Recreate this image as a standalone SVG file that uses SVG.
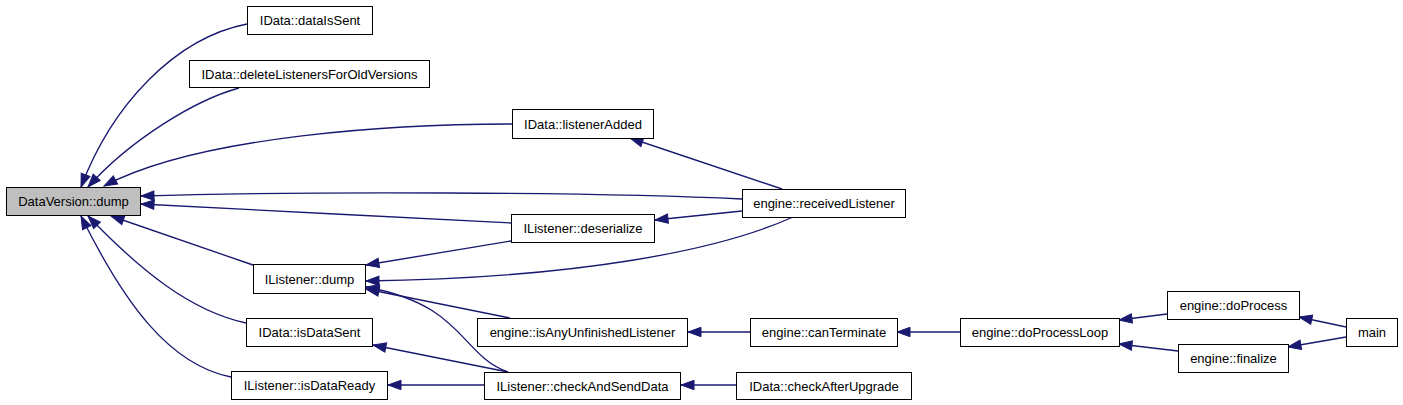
<svg xmlns="http://www.w3.org/2000/svg" width="1403" height="405" viewBox="0 0 1403 405">
<defs>
<style>
.node rect{fill:#ffffff;stroke:#000000;stroke-width:1}
.node.hl rect{fill:#bfbfbf}
.node text{font-family:"Liberation Sans",Arial,sans-serif;font-size:13px;fill:#000000;text-anchor:middle}
.edges path{fill:none;stroke:#191970;stroke-width:1.33;marker-end:url(#ah)}
</style>
<marker id="ah" markerUnits="userSpaceOnUse" markerWidth="16" markerHeight="12" refX="13" refY="5" orient="auto" overflow="visible">
<path d="M0,0.3 L13,5 L0,9.7 z" fill="#191970" stroke="#191970" stroke-width="1"/>
</marker>
</defs>
<rect width="1403" height="405" fill="#ffffff"/>
<g id="connectors" class="edges">
<path d="M247,24 C175,38 112,105 81,187"/>
<path d="M239,88 C195,100 130,140 88,187"/>
<path d="M512,124 C400,124 200,135 104,186"/>
<path d="M742,199 C600,192 300,191 141,196"/>
<path d="M511,223 C400,217 250,210 141,204"/>
<path d="M253,265 L111,216"/>
<path d="M246,323 C190,311 140,270 88,216"/>
<path d="M231,377 C170,365 125,305 81,216"/>
<path d="M782,189 L630,138"/>
<path d="M742,211 L655,220"/>
<path d="M511,241 L366,265"/>
<path d="M793,217 C720,250 580,278 366,281"/>
<path d="M510,318 L366,289"/>
<path d="M508,372 C460,355 465,305 366,287"/>
<path d="M508,372 L373,345"/>
<path d="M484,385 L388,385"/>
<path d="M750,332 L688,332"/>
<path d="M736,385 L681,385"/>
<path d="M960,332 L897,332"/>
<path d="M1167,314 L1119,320"/>
<path d="M1178,351 L1119,344"/>
<path d="M1346,327 L1299,317"/>
<path d="M1346,337 L1288,347"/>
</g>
<g id="n_dvdump" class="node hl"><rect x="6.5" y="187.5" width="134" height="28"/><text x="73.5" y="206">DataVersion::dump</text></g>
<g id="n_dataIsSent" class="node"><rect x="247.5" y="6.5" width="125" height="28"/><text x="310" y="25">IData::dataIsSent</text></g>
<g id="n_deleteListeners" class="node"><rect x="189.5" y="60.5" width="240" height="27"/><text x="309.5" y="78.5">IData::deleteListenersForOldVersions</text></g>
<g id="n_listenerAdded" class="node"><rect x="512.5" y="109.5" width="141" height="29"/><text x="583" y="128.5">IData::listenerAdded</text></g>
<g id="n_receivedListener" class="node"><rect x="742.5" y="189.5" width="163" height="28"/><text x="824" y="208">engine::receivedListener</text></g>
<g id="n_deserialize" class="node"><rect x="511.5" y="214.5" width="143" height="28"/><text x="583" y="233">IListener::deserialize</text></g>
<g id="n_ldump" class="node"><rect x="253.5" y="264.5" width="112" height="29"/><text x="309.5" y="283.5">IListener::dump</text></g>
<g id="n_isDataSent" class="node"><rect x="246.5" y="318.5" width="126" height="28"/><text x="309.5" y="337">IData::isDataSent</text></g>
<g id="n_isDataReady" class="node"><rect x="231.5" y="371.5" width="156" height="28"/><text x="309.5" y="390">IListener::isDataReady</text></g>
<g id="n_isAnyUnfinished" class="node"><rect x="477.5" y="318.5" width="210" height="28"/><text x="582.5" y="337">engine::isAnyUnfinishedListener</text></g>
<g id="n_canTerminate" class="node"><rect x="750.5" y="318.5" width="147" height="28"/><text x="824" y="337">engine::canTerminate</text></g>
<g id="n_checkAndSend" class="node"><rect x="484.5" y="372.5" width="196" height="27"/><text x="582.5" y="390.5">IListener::checkAndSendData</text></g>
<g id="n_checkAfterUpgrade" class="node"><rect x="736.5" y="372.5" width="175" height="27"/><text x="824" y="390.5">IData::checkAfterUpgrade</text></g>
<g id="n_doProcessLoop" class="node"><rect x="960.5" y="318.5" width="159" height="28"/><text x="1040" y="337">engine::doProcessLoop</text></g>
<g id="n_doProcess" class="node"><rect x="1167.5" y="291.5" width="132" height="28"/><text x="1233.5" y="310">engine::doProcess</text></g>
<g id="n_finalize" class="node"><rect x="1178.5" y="344.5" width="110" height="28"/><text x="1233.5" y="363">engine::finalize</text></g>
<g id="n_main" class="node"><rect x="1346.5" y="318.5" width="51" height="28"/><text x="1372" y="337">main</text></g>
</svg>
